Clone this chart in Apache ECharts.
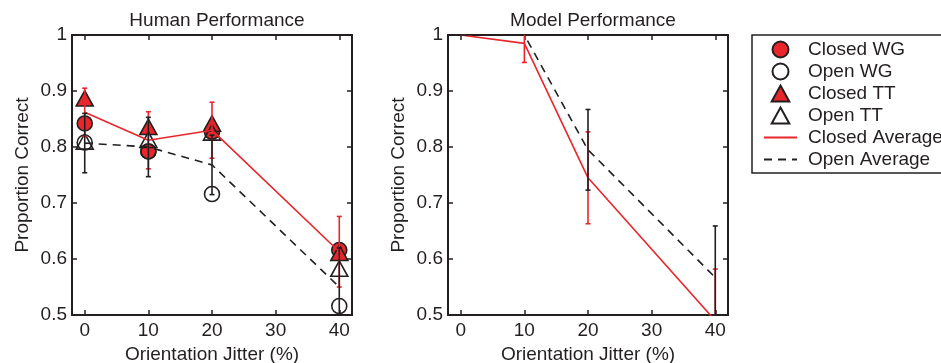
<!DOCTYPE html>
<html>
<head>
<meta charset="utf-8">
<script src="https://cdn.jsdelivr.net/npm/echarts@6/dist/echarts.min.js"></script>
<style>html,body{margin:0;padding:0;background:#fff;}#chart{width:941px;height:363px;}</style>
</head>
<body>
<div id="chart"></div>
<script>
// ---- data ----
const xValues = [0, 10, 20, 40];
const xTicks = [0, 10, 20, 30, 40];
const yTicks = [0.5, 0.6, 0.7, 0.8, 0.9, 1];

// Human performance
const humanClosedWG = [0.842, 0.792, 0.827, 0.616];
const humanOpenWG   = [0.808, 0.792, 0.716, 0.516];
const humanClosedTT = [0.887, 0.836, 0.842, 0.611];
const humanOpenTT   = [0.810, 0.813, 0.826, 0.583];
const humanClosedAvg = [0.862, 0.812, 0.830, 0.613];
const humanClosedErr = [0.043, 0.051, 0.050, 0.063];
const humanOpenAvg   = [0.807, 0.800, 0.768, 0.550];
const humanOpenErr   = [0.053, 0.053, 0.053, 0.070];

// Model performance
const modelClosedAvg = [1.000, 0.985, 0.745, 0.490];
const modelClosedErr = [0, 0.034, 0.082, 0.092];
const modelOpenAvg   = [1.000, 1.000, 0.795, 0.567];
const modelOpenErr   = [0, 0, 0.072, 0.092];

const legendNames = ['Closed WG', 'Open WG', 'Closed TT', 'Open TT', 'Closed Average', 'Open Average'];
const titles = ['Human Performance', 'Model Performance'];
const xName = 'Orientation Jitter (%)';
const yName = 'Proportion Correct';

// ---- style ----
const RED = '#e8262b';
const INK = '#231f20';
const FONT = "'Liberation Sans', Arial, Helvetica, sans-serif";
const FS = 19;
const TRIANGLE = 'path://M0,-1.1L1.1,0.9L-1.1,0.9Z';

const pairs = (xs, ys) => xs.map((x, i) => [x, ys[i]]);
const triples = (xs, ys, es) => xs.map((x, i) => [x, ys[i], es[i]]);

function errorBarSeries(name, gridIdx, xs, ys, es, color) {
  return {
    type: 'custom',
    name: name + ' error',
    xAxisIndex: gridIdx * 2,
    yAxisIndex: gridIdx * 2,
    clip: true,
    z: 4,
    silent: true,
    data: triples(xs, ys, es),
    renderItem: function (params, api) {
      const x = api.value(0), y = api.value(1), e = api.value(2);
      if (!e) return { type: 'group', children: [] };
      const top = api.coord([x, y + e]);
      const bot = api.coord([x, y - e]);
      const w = 2.5;
      const st = { stroke: color, lineWidth: 1.6 };
      return {
        type: 'group',
        children: [
          { type: 'line', shape: { x1: top[0], y1: top[1], x2: bot[0], y2: bot[1] }, style: st },
          { type: 'line', shape: { x1: top[0] - w, y1: top[1], x2: top[0] + w, y2: top[1] }, style: st },
          { type: 'line', shape: { x1: bot[0] - w, y1: bot[1], x2: bot[0] + w, y2: bot[1] }, style: st }
        ]
      };
    }
  };
}

function makeXAxes(gridIndex) {
  const common = {
    type: 'value', gridIndex: gridIndex, min: -2, max: 42,
    splitLine: { show: false },
    axisLine: { show: true, onZero: false, lineStyle: { color: INK, width: 2 } },
    axisTick: { show: true, inside: true, length: 5, customValues: xTicks, lineStyle: { color: INK, width: 1.5 } }
  };
  return [
    Object.assign({}, common, {
      position: 'bottom',
      axisLabel: { show: true, customValues: xTicks, fontSize: FS, color: INK, margin: 6, fontFamily: FONT },
      name: xName, nameLocation: 'middle', nameGap: 27,
      nameTextStyle: { fontSize: FS, color: INK, fontFamily: FONT }
    }),
    Object.assign({}, common, { position: 'top', axisLabel: { show: false } })
  ];
}

function makeYAxes(gridIndex) {
  const common = {
    type: 'value', gridIndex: gridIndex, min: 0.5, max: 1,
    splitLine: { show: false },
    axisLine: { show: true, onZero: false, lineStyle: { color: INK, width: 2 } },
    axisTick: { show: true, inside: true, length: 5, customValues: yTicks, lineStyle: { color: INK, width: 1.5 } }
  };
  return [
    Object.assign({}, common, {
      position: 'left',
      axisLabel: { show: true, customValues: yTicks, fontSize: FS, color: INK, margin: 5, fontFamily: FONT,
        formatter: v => String(Math.round(v * 10) / 10) },
      name: yName, nameLocation: 'middle', nameGap: 40,
      nameTextStyle: { fontSize: FS, color: INK, fontFamily: FONT }
    }),
    Object.assign({}, common, { position: 'right', axisLabel: { show: false } })
  ];
}

function markerSeries(name, ys, symbol, size, filled) {
  return {
    type: 'scatter', name: name, xAxisIndex: 0, yAxisIndex: 0,
    symbol: symbol, symbolSize: size, symbolKeepAspect: true, z: 2,
    itemStyle: { color: filled ? RED : 'rgba(255,255,255,0)', borderColor: INK, borderWidth: 1.6, opacity: 1 },
    data: pairs(xValues, ys)
  };
}

function lineSeries(name, gridIdx, ys, dashed) {
  return {
    type: 'line', name: name, xAxisIndex: gridIdx * 2, yAxisIndex: gridIdx * 2,
    symbol: 'none', z: 3, clip: true,
    lineStyle: dashed ? { color: INK, width: 1.6, type: [8, 6] } : { color: RED, width: 1.6 },
    itemStyle: { color: dashed ? INK : RED },
    data: pairs(xValues, ys)
  };
}

const chart = echarts.init(document.getElementById('chart'), null, { renderer: 'canvas' });
const option = {
  animation: false,
  backgroundColor: '#fff',
  textStyle: { fontFamily: FONT },
  title: [
    { text: titles[0], left: 212, top: 6, textAlign: 'center', textStyle: { fontSize: FS, fontWeight: 'normal', color: INK, fontFamily: FONT } },
    { text: titles[1], left: 588, top: 6, textAlign: 'center', textStyle: { fontSize: FS, fontWeight: 'normal', color: INK, fontFamily: FONT } }
  ],
  legend: {
    orient: 'vertical', left: 752, top: 35,
    padding: [5, 30, 4, 11],
    itemWidth: 33, itemHeight: 16, itemGap: 3,
    symbolKeepAspect: true,
    borderColor: INK, borderWidth: 1.5,
    selectedMode: false,
    textStyle: { fontSize: FS, color: INK, fontFamily: FONT, lineHeight: 18, padding: [0, 0, 0, 6] },
    data: [
      { name: legendNames[0] },
      { name: legendNames[1] },
      { name: legendNames[2] },
      { name: legendNames[3] },
      { name: legendNames[4], itemStyle: { opacity: 0 } },
      { name: legendNames[5], itemStyle: { opacity: 0 } }
    ]
  },
  grid: [
    { left: 72, top: 35, width: 280, height: 280, containLabel: false, outerBoundsMode: 'none' },
    { left: 448, top: 35, width: 280, height: 280, containLabel: false, outerBoundsMode: 'none' }
  ],
  xAxis: makeXAxes(0).concat(makeXAxes(1)),
  yAxis: makeYAxes(0).concat(makeYAxes(1)),
  series: [
    markerSeries(legendNames[0], humanClosedWG, 'circle', 15, true),
    markerSeries(legendNames[1], humanOpenWG, 'circle', 15, false),
    markerSeries(legendNames[2], humanClosedTT, TRIANGLE, 17, true),
    markerSeries(legendNames[3], humanOpenTT, TRIANGLE, 17, false),
    lineSeries(legendNames[4], 0, humanClosedAvg, false),
    lineSeries(legendNames[5], 0, humanOpenAvg, true),
    errorBarSeries('human closed', 0, xValues, humanClosedAvg, humanClosedErr, RED),
    errorBarSeries('human open', 0, xValues, humanOpenAvg, humanOpenErr, INK),
    lineSeries(legendNames[4], 1, modelClosedAvg, false),
    lineSeries(legendNames[5], 1, modelOpenAvg, true),
    errorBarSeries('model closed', 1, xValues, modelClosedAvg, modelClosedErr, RED),
    errorBarSeries('model open', 1, xValues, modelOpenAvg, modelOpenErr, INK)
  ]
};
chart.setOption(option);
</script>
</body>
</html>
